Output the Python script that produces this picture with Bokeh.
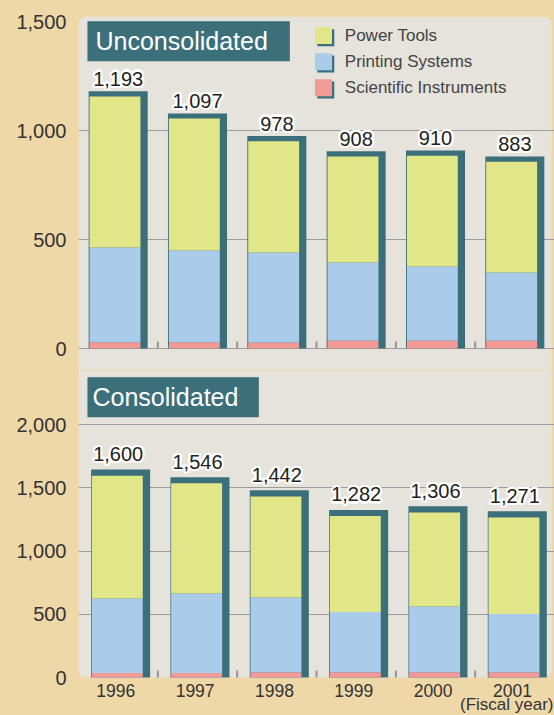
import math
from bokeh.plotting import figure
from bokeh.layouts import column
from bokeh.models import Range1d, FixedTicker, NumeralTickFormatter, BoxAnnotation, Label, ColumnDataSource
from bokeh.core.properties import value
from bokeh.embed import file_html
from bokeh.resources import INLINE

# ---------------- data ----------------
years = ["1996", "1997", "1998", "1999", "2000", "2001"]
series = ["Power Tools", "Printing Systems", "Scientific Instruments"]

uncons_total = [1193, 1097, 978, 908, 910, 883]
uncons_power = [694, 606, 511, 487, 508, 509]
uncons_printing = [435, 421, 413, 358, 340, 312]
uncons_scientific = [29, 29, 28, 37, 37, 37]

cons_total = [1600, 1546, 1442, 1282, 1306, 1271]
cons_power = [972, 871, 800, 758, 744, 763]
cons_printing = [589, 629, 590, 477, 519, 461]
cons_scientific = [35, 35, 42, 42, 42, 42]

uncons_axis_ticks = [0, 500, 1000, 1500]
uncons_grid_ticks = [0, 500, 1000]
cons_axis_ticks = [0, 500, 1000, 1500, 2000]
cons_grid_ticks = [500, 1000, 1500, 2000]

# ---------------- style ----------------
FONT = "Liberation Sans"
BG = "#efd8a8"
PANEL = "#e6e2dc"
TEAL = "#3b6f7a"
YELLOW = "#e1e788"
BLUE = "#abcbea"
PINK = "#f49a96"
GRID = "#9c9c9c"
TXT = "#333333"
COLORS = {"Power Tools": YELLOW, "Printing Systems": BLUE, "Scientific Instruments": PINK}
PX_X = 79.33  # pixels per category


def make_chart(height, y_start, y_end, b_top, axis_ticks, grid_ticks,
               power, printing, sci, totals, pad, col_shift, shd_shift, label_gap, radius):
    p = figure(width=554, height=height,
               x_range=Range1d(-0.5, 5.5), y_range=Range1d(y_start, y_end),
               output_backend="svg", toolbar_location=None,
               x_axis_location=None,
               min_border_left=78, min_border_right=0,
               min_border_top=b_top, min_border_bottom=0)
    p.background_fill_color = BG
    p.border_fill_color = BG
    p.outline_line_color = None
    p.xgrid.visible = False
    py = (height - b_top) / (y_end - y_start)  # pixels per unit

    p.yaxis.ticker = FixedTicker(ticks=axis_ticks)
    p.yaxis.formatter = NumeralTickFormatter(format="0,0")
    p.yaxis.axis_line_color = None
    p.yaxis.major_tick_line_color = None
    p.yaxis.minor_tick_line_color = None
    p.yaxis.major_tick_in = 0
    p.yaxis.major_tick_out = 0
    p.yaxis.major_label_standoff = 12
    p.yaxis.major_label_text_font = FONT
    p.yaxis.major_label_text_font_size = "20px"
    p.yaxis.major_label_text_color = TXT
    p.ygrid.ticker = FixedTicker(ticks=grid_ticks)
    p.ygrid.grid_line_color = GRID
    p.ygrid.grid_line_width = 1

    # panel
    p.quad(left=-0.5, right=5.5 - 3 / PX_X, top=y_end, bottom=min(0, y_start) if radius[0] else 0,
           fill_color=PANEL, line_color=None, border_radius=radius, level="image")

    n = len(totals)
    xs = list(range(n))
    stack_top = [a + b + c for a, b, c in zip(power, printing, sci)]
    shadow_top = [t + pad for t in stack_top]

    # shadow
    p.vbar(x=[x + shd_shift for x in xs], top=shadow_top, bottom=0, width=0.744,
           fill_color=TEAL, line_color=None)

    src = ColumnDataSource({"x": [x + col_shift for x in xs],
                            "Scientific Instruments": sci,
                            "Printing Systems": printing,
                            "Power Tools": power})
    p.vbar_stack(["Scientific Instruments", "Printing Systems", "Power Tools"], x="x",
                 width=0.642, fill_color=[PINK, BLUE, YELLOW], line_color=None, source=src)

    # small separators at category boundaries
    p.ray(x=[x + 0.5 for x in xs[:-1]], y=0, length=7, length_units="screen",
          angle=math.pi / 2, line_color="#959595", line_width=2)

    # value labels with white halo (centre of the digits sits label_gap + 7 px above the bar)
    lsrc = ColumnDataSource({"x": xs, "y": [t + (label_gap + 7.5) / py for t in shadow_top],
                             "t": [f"{v:,}" for v in totals]})
    kw = dict(x="x", y="y", text="t", source=lsrc, text_align="center",
              text_baseline="middle",
              text_font=value(FONT), text_font_size="20px", text_color="#222222")
    for k in range(16):
        a = 2 * math.pi * k / 16
        k2 = dict(kw)
        k2["text_color"] = "white"
        k2["x_offset"] = 2.2 * math.cos(a)
        k2["y_offset"] = 2.2 * math.sin(a)
        p.text(**k2)
    p.text(**kw)
    return p, py


# ---------------- top: unconsolidated ----------------
top, py_top = make_chart(370, -101, 1525, 16, uncons_axis_ticks, uncons_grid_ticks,
                         uncons_power, uncons_printing, uncons_scientific, uncons_total,
                         24, -0.040, 0.0, 5, (8, 8, 0, 0))

top.add_layout(BoxAnnotation(left=-0.387, right=2.164, top=1503, bottom=1320,
                             fill_color=TEAL, fill_alpha=1, line_color=None))
top.add_layout(Label(x=-0.387, y=1411, x_offset=8, text="Unconsolidated",
                     text_baseline="middle", text_font=FONT, text_font_size="25px",
                     text_color="white"))

# legend (drawn by hand, with small shaded swatches)
leg_x = 2.588
leg_y = [1438, 1317, 1198]
leg_colors = [COLORS[s] for s in series]
top.rect(x=leg_x + 2.3 / PX_X, y=[y - 10.6 for y in leg_y], width=17, height=17,
         width_units="screen", height_units="screen", fill_color=TEAL, line_color=None)
top.rect(x=leg_x, y=leg_y, width=17, height=17, width_units="screen", height_units="screen",
         fill_color=leg_colors, line_color=None)
top.text(x=2.857, y=leg_y, text=series, text_baseline="middle", text_align="left",
         text_font=value(FONT), text_font_size="17px", text_color="#444444")

# ---------------- bottom: consolidated ----------------
# frame runs to the bottom of the page; 0 sits 38 px above it
bot, py_bot = make_chart(345, -300, 2427, 0, cons_axis_ticks, cons_grid_ticks,
                         cons_power, cons_printing, cons_scientific, cons_total,
                         48, -0.011, 0.031, 8, (0, 0, 8, 8))

bot.add_layout(BoxAnnotation(left=-0.387, right=1.773, top=2374, bottom=2058,
                             fill_color=TEAL, fill_alpha=1, line_color=None))
bot.add_layout(Label(x=-0.387, y=2216, x_offset=5, text="Consolidated",
                     text_baseline="middle", text_font=FONT, text_font_size="25px",
                     text_color="white"))

# category (year) labels under the bars
bot.text(x=[i - 0.03 for i in range(len(years))], y=-6 / py_bot, text=years,
         text_align="center", text_baseline="top",
         text_font=value(FONT), text_font_size="17.5px", text_color=TXT)
bot.text(x=5.5 - 1 / PX_X, y=-17 / py_bot, text=["(Fiscal year)"],
         text_align="right", text_baseline="top",
         text_font=value(FONT), text_font_size="17px", text_color=TXT)

layout = column(top, bot, spacing=0)

html = file_html(layout, INLINE)
html = html.replace("</head>", "<style>html,body{background:#efd8a8;}</style></head>", 1)
open("out.html", "w").write(html)
